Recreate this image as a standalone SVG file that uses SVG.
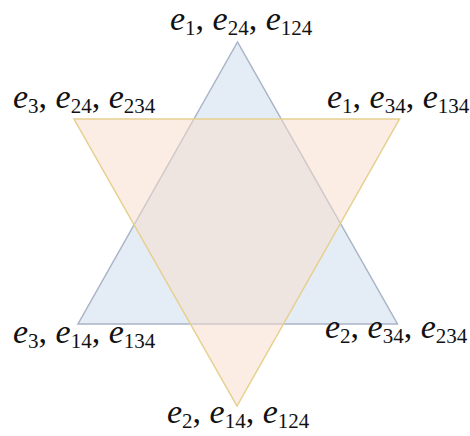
<svg xmlns="http://www.w3.org/2000/svg" width="470" height="436" viewBox="0 0 470 436">
<style>
.lbl{font-family:"Liberation Serif","Times New Roman",serif;font-size:34px;fill:#111111}
.e{font-style:italic}
.s{font-size:21px}
.blue{fill:#e4ecf6;stroke:#a9b4c6;stroke-width:1.5}
.orange{fill:#f7dbc9;fill-opacity:0.5;stroke:#e6d08e;stroke-width:1.5}
</style>
<rect width="470" height="436" fill="#ffffff"/>
<g id="connectors"></g>
<g id="triangle-blue"><polygon class="blue" points="237.5,42 78,324 397.5,324"/></g>
<g id="triangle-orange"><polygon class="orange" points="74,119 399.5,119 237,406"/></g>
<g id="label-top"><text class="lbl" x="170" y="30"><tspan class="e">e</tspan><tspan class="s" dy="5">1</tspan><tspan dy="-5">, </tspan><tspan class="e">e</tspan><tspan class="s" dy="5">24</tspan><tspan dy="-5">, </tspan><tspan class="e">e</tspan><tspan class="s" dy="5">124</tspan></text></g>
<g id="label-top-left"><text class="lbl" x="13" y="108"><tspan class="e">e</tspan><tspan class="s" dy="5">3</tspan><tspan dy="-5">, </tspan><tspan class="e">e</tspan><tspan class="s" dy="5">24</tspan><tspan dy="-5">, </tspan><tspan class="e">e</tspan><tspan class="s" dy="5">234</tspan></text></g>
<g id="label-top-right"><text class="lbl" x="327" y="108"><tspan class="e">e</tspan><tspan class="s" dy="5">1</tspan><tspan dy="-5">, </tspan><tspan class="e">e</tspan><tspan class="s" dy="5">34</tspan><tspan dy="-5">, </tspan><tspan class="e">e</tspan><tspan class="s" dy="5">134</tspan></text></g>
<g id="label-bottom-left"><text class="lbl" x="13" y="343"><tspan class="e">e</tspan><tspan class="s" dy="5">3</tspan><tspan dy="-5">, </tspan><tspan class="e">e</tspan><tspan class="s" dy="5">14</tspan><tspan dy="-5">, </tspan><tspan class="e">e</tspan><tspan class="s" dy="5">134</tspan></text></g>
<g id="label-bottom-right"><text class="lbl" x="325" y="338"><tspan class="e">e</tspan><tspan class="s" dy="5">2</tspan><tspan dy="-5">, </tspan><tspan class="e">e</tspan><tspan class="s" dy="5">34</tspan><tspan dy="-5">, </tspan><tspan class="e">e</tspan><tspan class="s" dy="5">234</tspan></text></g>
<g id="label-bottom"><text class="lbl" x="167" y="423"><tspan class="e">e</tspan><tspan class="s" dy="5">2</tspan><tspan dy="-5">, </tspan><tspan class="e">e</tspan><tspan class="s" dy="5">14</tspan><tspan dy="-5">, </tspan><tspan class="e">e</tspan><tspan class="s" dy="5">124</tspan></text></g>
</svg>
